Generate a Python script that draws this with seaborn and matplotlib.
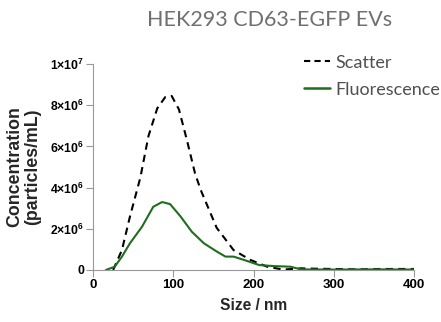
import numpy as np
import pandas as pd
import matplotlib
matplotlib.use("Agg")
import matplotlib.pyplot as plt
import seaborn as sns
from matplotlib.lines import Line2D

# ---- data ----
scatter_size = [25, 36, 46, 59, 69, 80, 90, 98, 107, 117, 127, 134, 154, 175, 196, 217, 237, 259, 280, 300, 330, 360, 400]
scatter_conc = [0.0, 0.97e6, 2.6e6, 4.5e6, 6.5e6, 7.85e6, 8.4e6, 8.45e6, 7.8e6, 6.3e6, 4.7e6, 3.9e6, 2.05e6, 0.97e6, 0.49e6, 0.16e6, 0.02e6, 0.08e6, 0.06e6, 0.05e6, 0.03e6, 0.05e6, 0.05e6]

fluor_size = [16, 27, 36, 46, 61, 75, 86, 96, 109, 123, 138, 154, 165, 175, 188, 207, 225, 246, 259, 300, 350, 400]
fluor_conc = [0.0, 0.16e6, 0.65e6, 1.3e6, 2.1e6, 3.07e6, 3.3e6, 3.2e6, 2.6e6, 1.86e6, 1.3e6, 0.9e6, 0.65e6, 0.65e6, 0.49e6, 0.24e6, 0.19e6, 0.16e6, 0.03e6, 0.02e6, 0.03e6, 0.02e6]

series_names = ["Scatter", "Fluorescence"]
title = "HEK293 CD63-EGFP EVs"
x_ticks = [0, 100, 200, 300, 400]
y_ticks = [0, 2e6, 4e6, 6e6, 8e6, 1e7]
y_ticklabels = ["0", "2×10$^{6}$", "4×10$^{6}$", "6×10$^{6}$", "8×10$^{6}$", "1×10$^{7}$"]

df = pd.concat([
    pd.DataFrame({"size": scatter_size, "conc": scatter_conc, "series": series_names[0]}),
    pd.DataFrame({"size": fluor_size, "conc": fluor_conc, "series": series_names[1]}),
])

sns.set_theme(style="ticks")
plt.rcParams["font.family"] = ["Liberation Sans", "DejaVu Sans"]
plt.rcParams["mathtext.fontset"] = "custom"
plt.rcParams["mathtext.rm"] = "Liberation Sans:bold"
plt.rcParams["mathtext.default"] = "rm"

GREEN = "#1e6e1e"
fig = plt.figure(figsize=(4.41, 3.22), dpi=100)
ax = fig.add_axes([0.211, 0.1615, 0.728, 0.6395])

sns.lineplot(data=df, x="size", y="conc", hue="series", style="series",
             palette={"Scatter": "black", "Fluorescence": GREEN},
             dashes={"Scatter": (3.5, 2.5), "Fluorescence": ""},
             linewidth=1.5, ax=ax, legend=False, sort=False)

ax.set_xlim(0, 400)
ax.set_ylim(0, 1e7)
ax.set_xticks(x_ticks)
ax.set_xticklabels([str(t) for t in x_ticks], fontsize=9.5, fontweight="bold")
ax.set_yticks(y_ticks)
ax.set_yticklabels(y_ticklabels, fontsize=8.8, fontweight="bold")
ax.set_xlabel("Size / nm", fontsize=11.2, fontweight="bold", labelpad=5)
ax.set_ylabel("Concentration\n(particles/mL)", fontsize=12.8, fontweight="bold",
              linespacing=1.1, labelpad=6)
for s in ["top", "right"]:
    ax.spines[s].set_visible(False)
for s in ["left", "bottom"]:
    ax.spines[s].set_color("#999999")
    ax.spines[s].set_linewidth(0.8)
ax.tick_params(axis="both", colors="#999999", labelcolor="black", length=5, width=0.8, pad=1.5)

handles = [Line2D([], [], color="black", linestyle=(0, (3, 2)), linewidth=1.5),
           Line2D([], [], color=GREEN, linewidth=1.8)]
fig.legend(handles, series_names, loc="upper left", bbox_to_anchor=(0.69, 0.83),
           frameon=False, handlelength=1.4, handletextpad=0.3,
           labelspacing=0.6, borderpad=0, borderaxespad=0,
           labelcolor="#505050", prop={"family": "Lato", "size": 13})

fig.text(0.612, 0.938, title, ha="center", va="center", fontsize=15.5,
         color="#707070", family="Lato")

fig.savefig("out.png", dpi=100)
